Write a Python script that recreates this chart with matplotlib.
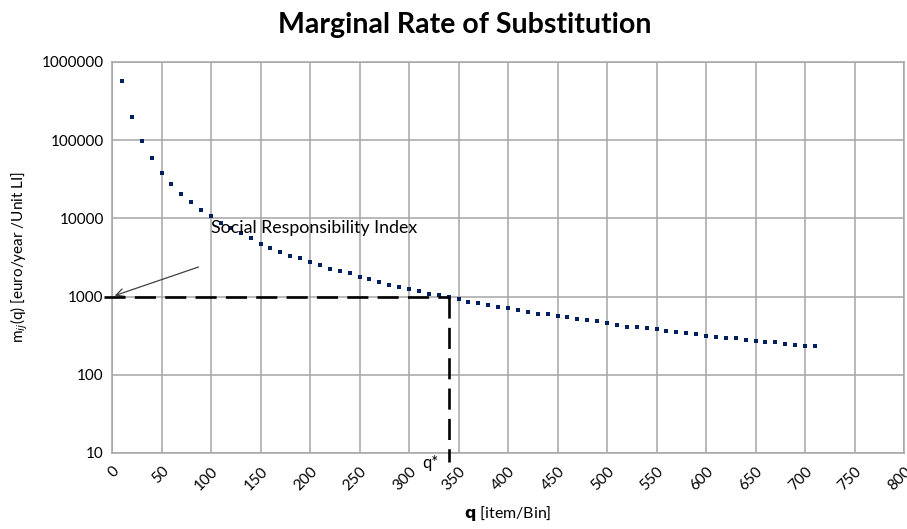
import matplotlib.pyplot as plt
import numpy as np

# marginal rate of substitution
q = [10, 20, 30, 40, 50, 60, 70, 80, 90, 100,
     110, 120, 130, 140, 150, 160, 170, 180, 190, 200,
     210, 220, 230, 240, 250, 260, 270, 280, 290, 300,
     310, 320, 330, 340, 350, 360, 370, 380, 390, 400,
     410, 420, 430, 440, 450, 460, 470, 480, 490, 500,
     510, 520, 530, 540, 550, 560, 570, 580, 590, 600,
     610, 620, 630, 640, 650, 660, 670, 680, 690, 700,
     710]
mrs = [571000, 198000, 97700, 59000, 38000, 27600, 20600, 16200, 12800, 10700,
       8700, 7500, 6400, 5600, 4700, 4200, 3700, 3300, 3100, 2750,
       2500, 2250, 2100, 1980, 1780, 1660, 1540, 1420, 1320, 1250,
       1180, 1080, 1040, 1000, 930, 850, 830, 780, 740, 715,
       675, 630, 600, 590, 565, 540, 515, 500, 490, 460,
       435, 410, 410, 400, 390, 365, 355, 340, 330, 315,
       305, 295, 295, 279, 270, 263, 263, 245, 240, 233,
       233]

q_star = 340
m_star = 1000
xticks = list(range(0, 801, 50))
yticks = [10, 100, 1000, 10000, 100000, 1000000]

plt.rcParams['font.family'] = ['Lato', 'DejaVu Sans']

fig = plt.figure(figsize=(9.07, 5.29), dpi=100)
ax = fig.add_axes([0.1235, 0.1437, 0.8733, 0.7393])

ax.set_yscale('log')
ax.set_xlim(0, 800)
ax.set_ylim(10, 1000000)
ax.grid(True, color='#a6a6a6', linewidth=1.1)
ax.set_axisbelow(True)
for s in ax.spines.values():
    s.set_color('#a6a6a6')
    s.set_linewidth(1.1)

ax.plot(q, mrs, 's', color='#002060', markersize=2.9, markeredgewidth=0, zorder=3)

# q* lines
ax.plot([-8, q_star], [m_star, m_star], color='black', lw=1.9,
        dashes=(8, 3.5), clip_on=False, zorder=4)
ax.plot([q_star, q_star], [m_star, 7.7], color='black', lw=1.9,
        dashes=(8, 3.5), clip_on=False, zorder=4)

ax.annotate('', xy=(0, m_star), xytext=(90, 2450),
            arrowprops=dict(arrowstyle='->', color='#404040', lw=0.9,
                            mutation_scale=14))
ax.text(100, 7600, 'Social Responsibility Index', fontsize=12.8,
        ha='left', va='center')
ax.text(q_star - 10, 9.3, 'q*', fontsize=12, ha='right', va='top')

ax.set_xticks(xticks)
ax.set_xticklabels([str(t) for t in xticks], rotation=45, ha='right',
                   rotation_mode='anchor', fontsize=11)
ax.set_yticks(yticks)
ax.set_yticklabels([str(t) for t in yticks], fontsize=11)
ax.yaxis.set_minor_locator(plt.NullLocator())
ax.tick_params(length=0, pad=6)
ax.tick_params(axis='x', pad=8)

ax.set_ylabel(r'm$_{ij}$(q) [euro/year /Unit LI]', fontsize=11, labelpad=8)
ax.set_xlabel(r'$\bf{q}$ [item/Bin]', fontsize=11.5, labelpad=8)
fig.suptitle('Marginal Rate of Substitution', fontsize=20.5, fontweight='bold',
             x=0.512, y=0.978)

fig.savefig('out.png', dpi=100)
